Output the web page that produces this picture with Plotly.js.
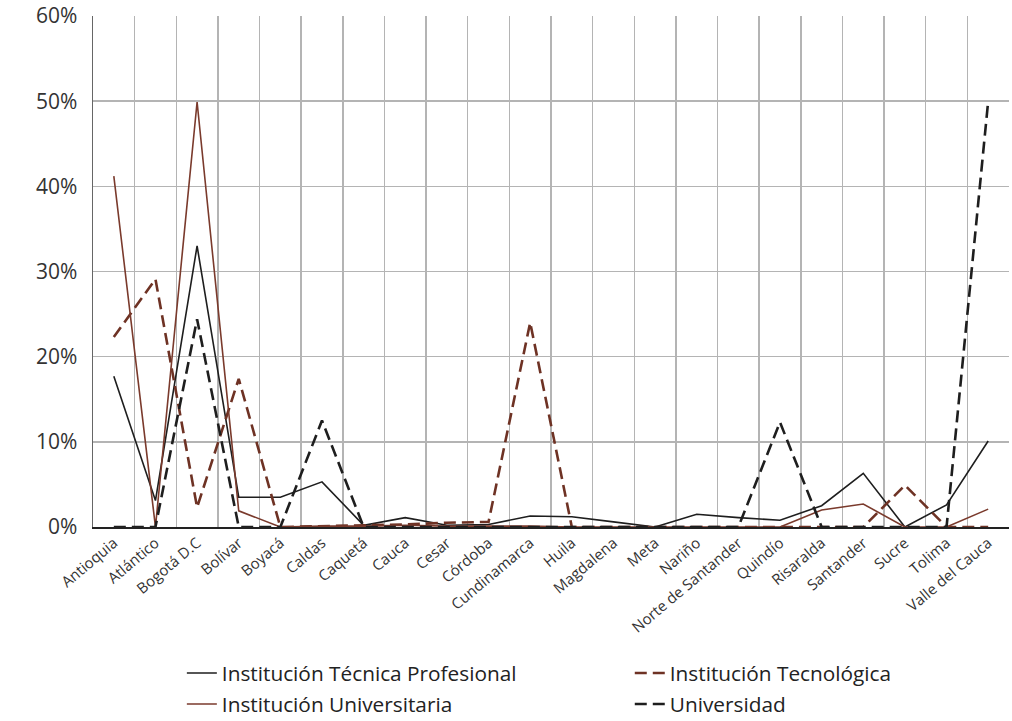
<!DOCTYPE html>
<html>
<head>
<meta charset="utf-8">
<script src="https://cdn.plot.ly/plotly-3.0.1.min.js"></script>
<style>html,body{margin:0;padding:0;background:#fff;}#chart{width:1012px;height:721px;}</style>
</head>
<body>
<div id="chart"></div>
<script>
const departamentos = ["Antioquia","Atlántico","Bogotá D.C","Bolívar","Boyacá","Caldas","Caquetá","Cauca","Cesar","Córdoba","Cundinamarca","Huila","Magdalena","Meta","Nariño","Norte de Santander","Quindío","Risaralda","Santander","Sucre","Tolima","Valle del Cauca"];
const tecnicaProfesional = [0.177,0.031,0.330,0.035,0.035,0.053,0.002,0.011,0.002,0.003,0.013,0.012,0.006,0.000,0.015,0.011,0.008,0.025,0.063,0.000,0.026,0.101];
const tecnologica = [0.223,0.291,0.023,0.174,0.000,0.001,0.002,0.003,0.005,0.006,0.240,0.000,0.000,0.000,0.000,0.000,0.000,0.000,0.000,0.049,0.000,0.000];
const universitaria = [0.412,0.000,0.499,0.019,0.000,0.001,0.001,0.002,0.001,0.001,0.001,0.000,0.000,0.000,0.000,0.000,0.000,0.020,0.027,0.000,0.000,0.021];
const universidad = [0.000,0.000,0.244,0.000,0.000,0.125,0.000,0.000,0.000,0.000,0.000,0.000,0.000,0.000,0.000,0.000,0.123,0.000,0.000,0.000,0.000,0.500];
const yTicks = [0,0.1,0.2,0.3,0.4,0.5,0.6];

const BLACK = "#1e1e1e";
const BROWN = "#6e3224";

const traces = [
  {name:"Institución Técnica Profesional", legend:"legend", legendgroup:"a", x:departamentos, y:tecnicaProfesional, type:"scatter", mode:"lines", line:{color:BLACK,width:1.6}},
  {name:"Institución Tecnológica", legend:"legend2", legendgroup:"b", x:departamentos, y:tecnologica, type:"scatter", mode:"lines", line:{color:BROWN,width:2.6,dash:"12px,6px"}},
  {name:"Institución Universitaria", legend:"legend", legendgroup:"c", x:departamentos, y:universitaria, type:"scatter", mode:"lines", line:{color:"#7a3a2c",width:1.6}},
  {name:"Universidad", legend:"legend2", legendgroup:"d", x:departamentos, y:universidad, type:"scatter", mode:"lines", line:{color:BLACK,width:2.6,dash:"12px,6px"}}
];

const legendBase = {
  orientation:"v", yref:"container", yanchor:"top", y:1 - 653/721, xanchor:"left",
  font:{size:20.8,color:"#222"}, bgcolor:"rgba(0,0,0,0)", tracegroupgap:1
};

const layout = {
  width:1012, height:721,
  margin:{l:93,r:3,t:16,b:194},
  paper_bgcolor:"#fff", plot_bgcolor:"#fff",
  font:{family:"Open Sans, sans-serif", color:"#333"},
  showlegend:true,
  xaxis:{
    type:"category", tickson:"boundaries", showgrid:true, gridcolor:"#b4b4b4", gridwidth:1.5,
    tickangle:-40, tickfont:{size:15,color:"#333"}, ticks:"", showline:true, linecolor:"#222", linewidth:1.5,
    range:[-0.5,21.5], fixedrange:true, automargin:false
  },
  yaxis:{
    range:[0,0.6], tickvals:yTicks, tickformat:".0%", showgrid:true, gridcolor:"#b4b4b4", gridwidth:1.5,
    tickfont:{size:21,color:"#333"}, ticks:"", showline:true, linecolor:"#666", linewidth:1.5,
    ticklabelstandoff:10, zeroline:false, fixedrange:true, automargin:false
  },
  legend:Object.assign({}, legendBase, {x:0.097}),
  legend2:Object.assign({}, legendBase, {x:0.586})
};

Plotly.newPlot("chart", traces, layout, {displayModeBar:false, staticPlot:true});
</script>
</body>
</html>
